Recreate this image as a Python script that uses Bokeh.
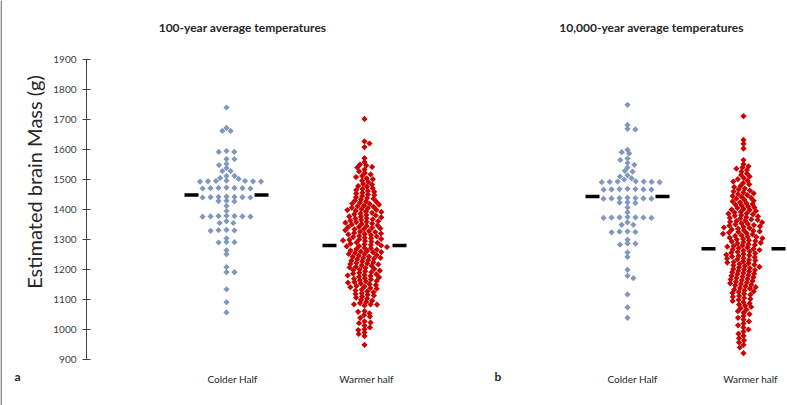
import numpy as np
from bokeh.plotting import figure
from bokeh.layouts import row
from bokeh.models import ColumnDataSource, FixedTicker, Span
from bokeh.core.properties import value
from bokeh.embed import file_html
from bokeh.resources import INLINE

# ---------------- data ----------------
y_ticks = [900, 1000, 1100, 1200, 1300, 1400, 1500, 1600, 1700, 1800, 1900]
y_title = "Estimated brain Mass (g)"
panel_titles = ["100-year average temperatures", "10,000-year average temperatures"]
panel_letters = ["a", "b"]
group_names = ["Colder Half", "Warmer half", "Colder Half", "Warmer half"]
group_means = [1449, 1281, 1444, 1270]

colder_a = [1741, 1673, 1663, 1663, 1596, 1593, 1593, 1569, 1569, 1553, 1549, 1539,
            1529, 1529, 1513, 1513, 1506, 1503,
            1497, 1496, 1496, 1495, 1495, 1494, 1494,
            1474, 1473, 1473, 1472, 1472, 1471, 1471,
            1444, 1443, 1443, 1442, 1442, 1441, 1441,
            1430, 1429, 1428, 1413, 1396,
            1380, 1379, 1379, 1378, 1378, 1377, 1377,
            1362, 1356, 1356, 1333, 1332, 1331, 1330,
            1305, 1293, 1292, 1291, 1265, 1252, 1209, 1192, 1192, 1135, 1092, 1058]

warmer_a = [1703, 1628, 1621, 1609, 1572, 1559, 1551, 1548, 1543, 1541,
            1534, 1528, 1523, 1518, 1513, 1509, 1505, 1502,
            1497, 1493, 1486, 1484, 1479, 1477, 1472, 1469, 1466, 1463, 1460,
            1457, 1454, 1451, 1449, 1446, 1442, 1439,
            1437, 1435, 1431, 1428, 1427, 1424, 1421, 1419,
            1417, 1414, 1412, 1410, 1407, 1405, 1402, 1400, 1399,
            1397, 1394, 1393, 1390, 1388, 1385, 1383, 1381, 1378,
            1377, 1375, 1372, 1371, 1368, 1366, 1364, 1362, 1360, 1359,
            1357, 1354, 1353, 1351, 1348, 1346, 1343, 1342, 1340, 1338,
            1336, 1335, 1332, 1329, 1327, 1326, 1323, 1321, 1319, 1318,
            1316, 1313, 1311, 1309, 1307, 1305, 1303, 1301, 1300, 1298,
            1296, 1294, 1291, 1290, 1287, 1285, 1283, 1281, 1279, 1278,
            1276, 1273, 1272, 1269, 1267, 1264, 1263, 1261, 1259, 1258,
            1256, 1253, 1252, 1249, 1247, 1244, 1243, 1240, 1239, 1237,
            1235, 1232, 1230, 1228, 1225, 1223, 1221, 1219, 1218,
            1215, 1213, 1210, 1208, 1206, 1203, 1201, 1199, 1197,
            1195, 1192, 1190, 1187, 1185, 1183, 1181, 1179, 1177,
            1175, 1172, 1170, 1168, 1165, 1163, 1161, 1159, 1157,
            1154, 1152, 1149, 1146, 1144, 1142, 1139, 1137,
            1134, 1131, 1128, 1125, 1122, 1119, 1117,
            1114, 1111, 1107, 1104, 1100, 1097,
            1093, 1089, 1085, 1085, 1084, 1081,
            1062, 1060, 1055, 1049, 1044, 1040,
            1028, 1024, 1022, 1014, 1008, 1002, 999, 991, 986, 979, 950]

colder_b = [1750, 1683, 1670, 1668, 1600, 1592, 1588, 1571, 1566, 1556, 1550, 1541,
            1530, 1527, 1515, 1511, 1505, 1501,
            1495, 1494, 1494, 1493, 1493, 1492, 1492,
            1470, 1469, 1469, 1468, 1468, 1467, 1467,
            1440, 1439, 1439, 1438, 1438, 1437, 1437,
            1425, 1424, 1423, 1408, 1392,
            1376, 1375, 1375, 1374, 1374, 1373, 1373,
            1358, 1350, 1350, 1328, 1327, 1326, 1325,
            1300, 1288, 1287, 1284, 1258, 1243, 1200, 1180, 1172, 1118, 1075, 1040]

warmer_b = [1712, 1633, 1620, 1604, 1566, 1552, 1545, 1541, 1537, 1533,
            1527, 1521, 1516, 1511, 1506, 1502, 1497, 1494,
            1489, 1485, 1479, 1476, 1471, 1468, 1464, 1461, 1458, 1455, 1452,
            1449, 1446, 1443, 1440, 1437, 1433, 1430,
            1428, 1425, 1422, 1419, 1417, 1414, 1411, 1408,
            1406, 1403, 1401, 1399, 1396, 1393, 1391, 1388, 1387,
            1385, 1382, 1380, 1378, 1375, 1373, 1371, 1368, 1366,
            1364, 1362, 1360, 1358, 1355, 1353, 1351, 1349, 1347, 1345,
            1343, 1341, 1339, 1337, 1334, 1332, 1330, 1328, 1326, 1324,
            1322, 1320, 1318, 1315, 1313, 1311, 1309, 1307, 1305, 1303,
            1301, 1298, 1296, 1294, 1292, 1290, 1288, 1285, 1283, 1281,
            1279, 1277, 1274, 1272, 1270, 1268, 1266, 1264, 1261, 1259,
            1257, 1255, 1253, 1250, 1248, 1246, 1244, 1242, 1239, 1237,
            1235, 1233, 1231, 1228, 1226, 1224, 1222, 1219, 1217, 1215,
            1213, 1210, 1208, 1206, 1203, 1201, 1199, 1196, 1194,
            1192, 1189, 1187, 1185, 1182, 1180, 1177, 1175, 1173,
            1170, 1168, 1165, 1163, 1160, 1158, 1155, 1153, 1150,
            1148, 1145, 1142, 1139, 1137, 1134, 1131, 1128, 1126,
            1123, 1120, 1117, 1113, 1110, 1106, 1103, 1100,
            1096, 1092, 1088, 1084, 1080, 1076, 1072,
            1067, 1062, 1057, 1052, 1046, 1040,
            1034, 1028, 1021, 1015, 1008, 1001,
            994, 987, 980, 972, 965, 958, 950, 941, 922]

group_values = [colder_a, warmer_a, colder_b, warmer_b]

# ---------------- layout / style ----------------
W, H = 787, 405
LW = 45                                     # left strip: y title and letter "a"
X0, X1 = 86.0, 787.0                        # x range of the main frame (page px)
PPU = 0.3                                   # pixels per gram
Y1900 = 59.3                                # page y of the 1900 tick
Y_TOP = 1900 + Y1900 / PPU
Y_BOT = 1900 - (H - Y1900) / PPU
group_x = [226, 364, 627, 743]
group_colors = ["#8097BE", "#CC0000", "#8097BE", "#CC0000"]
swarm_dx = [8.0, 6.5, 8.0, 6.5]
swarm_dy = [3.5, 3.3, 3.5, 3.3]
FONT = "Lato"
TXT = "#262626"


def ypage(py):
    return 1900 - (py - Y1900) / PPU


def swarm(vals, dx, dy):
    ys = np.asarray(vals, float) * PPU
    order = np.argsort(-ys, kind="stable")
    placed = []
    xs = np.zeros(len(ys))
    flip = False
    for i in order:
        y = ys[i]
        ints = []
        cands = [0.0]
        for px, py in placed:
            d = abs(py - y)
            if d < dy:
                w = dx * np.sqrt(1 - (d / dy) ** 2)
                ints.append((px - w, px + w))
                cands += [px - w, px + w]
        cands = sorted(cands, key=lambda c: (round(abs(c), 4), c if flip else -c))
        for c in cands:
            if all(not (a + 1e-6 < c < b - 1e-6) for a, b in ints):
                xs[i] = c
                break
        if xs[i] != 0:
            flip = not flip
        placed.append((xs[i], y))
    return xs


def bare(fig):
    fig.xgrid.visible = False
    fig.ygrid.visible = False
    fig.outline_line_color = None
    fig.background_fill_color = "white"
    fig.border_fill_color = "white"


# left strip: y-axis title and panel letter "a"
q = figure(width=LW, height=H, x_range=(0, LW), y_range=(Y_BOT, Y_TOP),
           output_backend="svg", toolbar_location=None,
           min_border_left=0, min_border_right=0, min_border_top=0, min_border_bottom=0)
q.xaxis.visible = False
q.yaxis.visible = False
bare(q)
q.add_layout(Span(location=0.6, dimension="height", line_color="#7a7a7a", line_width=1.5))
q.text(x=[33], y=[ypage(181.5)], text=[y_title], angle=np.pi / 2,
       text_font=value(FONT), text_font_size="20px", text_color=TXT,
       text_align="center", text_baseline="middle")
q.text(x=[14], y=[ypage(376)], text=[panel_letters[0]],
       text_font=value(FONT), text_font_size="12px", text_font_style="bold",
       text_color=TXT, text_align="left", text_baseline="middle")

# main chart
p = figure(width=W - LW, height=H, x_range=(X0, X1), y_range=(Y_BOT, Y_TOP),
           output_backend="svg", toolbar_location=None,
           min_border_left=int(X0 - LW), min_border_right=0,
           min_border_top=0, min_border_bottom=0)
p.xaxis.visible = False
bare(p)

ax = p.yaxis[0]
ax.bounds = (y_ticks[0], y_ticks[-1])
ax.ticker = FixedTicker(ticks=y_ticks)
ax.major_tick_in = 4
ax.major_tick_out = 4
ax.minor_tick_in = 0
ax.minor_tick_out = 0
ax.axis_line_color = "#404040"
ax.major_tick_line_color = "#404040"
ax.major_label_text_color = "#404040"
ax.major_label_text_font = FONT
ax.major_label_text_font_size = "10px"
ax.major_label_standoff = 6

for vals, gx, col, dx, dy, mean in zip(group_values, group_x, group_colors,
                                       swarm_dx, swarm_dy, group_means):
    offs = swarm(vals, dx, dy)
    src = ColumnDataSource(dict(x=gx + offs, y=vals))
    p.scatter("x", "y", source=src, marker="square", angle=np.pi / 4, size=4.4,
              fill_color=col, line_color=None)
    p.segment(x0=[gx - 42, gx + 28], x1=[gx - 28, gx + 42], y0=[mean, mean],
              y1=[mean, mean], line_color="black", line_width=3.5)

# category labels
p.text(x=[232, 366, 632, 750], y=[ypage(378)] * 4, text=group_names,
       text_font=value(FONT), text_font_size="10px", text_color=TXT,
       text_align="center", text_baseline="middle")

# panel titles
p.text(x=[242, 651], y=[ypage(27)] * 2, text=panel_titles,
       text_font=value(FONT), text_font_size="12px", text_font_style="bold",
       text_color=TXT, text_align="center", text_baseline="middle")

# panel letter b
p.text(x=[494], y=[ypage(376)], text=[panel_letters[1]],
       text_font=value(FONT), text_font_size="12px", text_font_style="bold",
       text_color=TXT, text_align="left", text_baseline="middle")

layout = row(q, p, spacing=0)
open("out.html", "w").write(file_html(layout, INLINE))
